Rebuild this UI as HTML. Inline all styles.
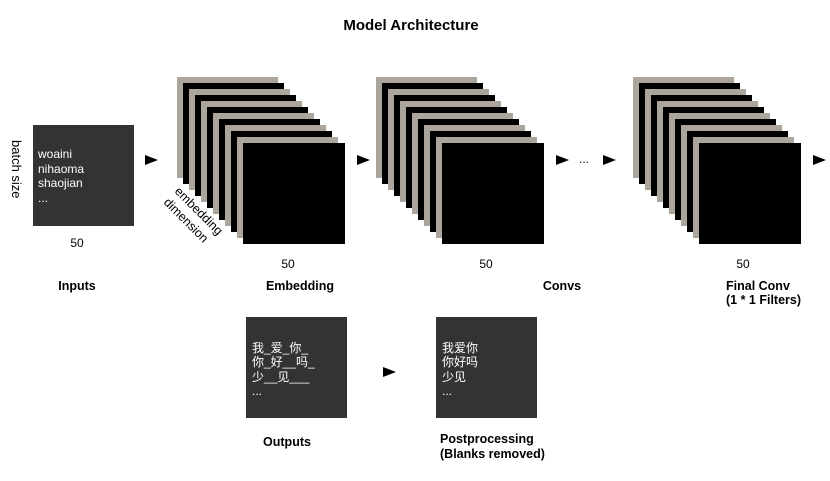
<!DOCTYPE html>
<html><head><meta charset="utf-8"><style>
html,body{margin:0;padding:0;background:#fff;}
svg{display:block;}
text{font-family:"Liberation Sans","Noto Sans CJK SC",sans-serif;}
</style></head><body>
<svg width="830" height="481" viewBox="0 0 830 481" xmlns="http://www.w3.org/2000/svg">
<rect width="830" height="481" fill="#fff"/>
<text x="411" y="30" font-size="15" font-weight="bold" text-anchor="middle" fill="#000">Model Architecture</text>

<!-- inputs -->
<text transform="translate(12,140) rotate(90)" font-size="13" fill="#000">batch size</text>
<rect x="33" y="125" width="101" height="101" fill="#333"/>
<text x="38" y="158" font-size="12" fill="#fff">woaini</text>
<text x="38" y="173" font-size="12" fill="#fff">nihaoma</text>
<text x="38" y="187" font-size="12" fill="#fff">shaojian</text>
<text x="38" y="202" font-size="12" fill="#fff">...</text>
<text x="77" y="247" font-size="12" text-anchor="middle" fill="#000">50</text>
<text x="77" y="290" font-size="12.5" font-weight="bold" text-anchor="middle" fill="#000">Inputs</text>

<!-- stacks -->
<g id="s1">
<rect x="177" y="77" width="101" height="101" fill="#aba59e"/>
<rect x="183" y="83" width="101" height="101" fill="#000"/>
<rect x="189" y="89" width="101" height="101" fill="#aba59e"/>
<rect x="195" y="95" width="101" height="101" fill="#000"/>
<rect x="201" y="101" width="101" height="101" fill="#aba59e"/>
<rect x="207" y="107" width="101" height="101" fill="#000"/>
<rect x="213" y="113" width="101" height="101" fill="#aba59e"/>
<rect x="219" y="119" width="101" height="101" fill="#000"/>
<rect x="225" y="125" width="101" height="101" fill="#aba59e"/>
<rect x="231" y="131" width="101" height="101" fill="#000"/>
<rect x="237" y="137" width="101" height="101" fill="#aba59e"/>
<rect x="243" y="143" width="102" height="101" fill="#000"/>
</g>
<use href="#s1" x="199" y="0"/>
<use href="#s1" x="456" y="0"/>

<text transform="translate(174,192) rotate(45)" font-size="12.5" fill="#000">embedding</text>
<text transform="translate(163,203) rotate(45)" font-size="12.5" fill="#000">dimension</text>

<text x="288" y="268" font-size="12" text-anchor="middle" fill="#000">50</text>
<text x="486" y="268" font-size="12" text-anchor="middle" fill="#000">50</text>
<text x="743" y="268" font-size="12" text-anchor="middle" fill="#000">50</text>
<text x="300" y="290" font-size="12.5" font-weight="bold" text-anchor="middle" fill="#000">Embedding</text>
<text x="562" y="290" font-size="12.5" font-weight="bold" text-anchor="middle" fill="#000">Convs</text>
<text x="726" y="290" font-size="12.5" font-weight="bold" fill="#000">Final Conv</text>
<text x="726" y="304" font-size="12.5" font-weight="bold" fill="#000">(1 * 1 Filters)</text>

<!-- arrows -->
<g fill="#000">
<polygon points="145,155 158,160 145,165"/>
<polygon points="357,155 370,160 357,165"/>
<polygon points="556,155 569,160 556,165"/>
<polygon points="603,155 616,160 603,165"/>
<polygon points="813,155 826,160 813,165"/>
<polygon points="383,367 396,372 383,377"/>
</g>
<text x="584" y="163" font-size="12" text-anchor="middle" fill="#000">...</text>

<!-- outputs -->
<rect x="246" y="317" width="101" height="101" fill="#333"/>
<text x="252" y="352" font-size="12" fill="#fff">我_爱_你_</text>
<text x="252" y="366" font-size="12" fill="#fff">你_好__吗_</text>
<text x="252" y="381" font-size="12" fill="#fff">少__见___</text>
<text x="252" y="395" font-size="12" fill="#fff">...</text>
<text x="287" y="446" font-size="12.5" font-weight="bold" text-anchor="middle" fill="#000">Outputs</text>

<rect x="436" y="317" width="101" height="101" fill="#333"/>
<text x="442" y="352" font-size="12" fill="#fff">我爱你</text>
<text x="442" y="366" font-size="12" fill="#fff">你好吗</text>
<text x="442" y="381" font-size="12" fill="#fff">少见</text>
<text x="442" y="395" font-size="12" fill="#fff">...</text>
<text x="440" y="443" font-size="12.5" font-weight="bold" fill="#000">Postprocessing</text>
<text x="440" y="458" font-size="12.5" font-weight="bold" fill="#000">(Blanks removed)</text>
</svg>
</body></html>
